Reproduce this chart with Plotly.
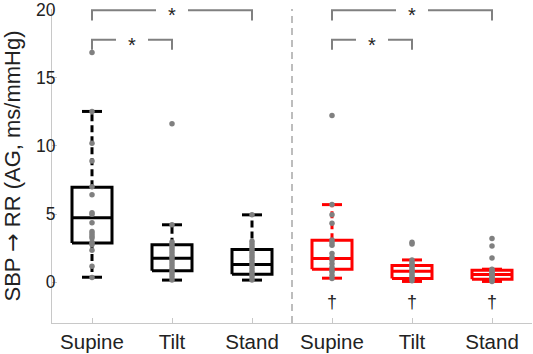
import plotly.graph_objects as go

# ---- data ----
tick_labels = ["Supine", "Tilt", "Stand", "Supine", "Tilt", "Stand"]
group_colors = ["black", "black", "black", "red", "red", "red"]

q1 = [2.87, 0.83, 0.58, 0.95, 0.27, 0.22]
median = [4.72, 1.75, 1.29, 1.73, 0.80, 0.56]
q3 = [6.96, 2.75, 2.39, 3.07, 1.22, 0.88]
whisk_lo = [0.36, 0.15, 0.15, 0.29, 0.05, 0.05]
whisk_hi = [12.53, 4.21, 4.94, 5.69, 1.63, 0.95]

points = [
    [16.86, 12.53, 10.2, 8.9, 7.0, 6.42, 5.09, 4.99, 4.36, 3.72, 3.55, 3.38, 3.24,
     2.92, 2.77, 2.34, 1.17, 0.34],
    [11.63, 4.21, 2.95, 2.75, 2.55, 2.35, 2.15, 1.95, 1.8, 1.6, 1.4, 1.2, 1.0, 0.8,
     0.6, 0.4, 0.15],
    [4.94, 3.0, 2.8, 2.6, 2.4, 2.2, 2.0, 1.8, 1.6, 1.4, 1.2, 1.0, 0.8, 0.6, 0.4, 0.15],
    [12.24, 5.69, 4.94, 4.33, 3.1, 2.9, 2.7, 2.1, 1.85, 1.6, 1.35, 1.1, 0.88, 0.75,
     0.5, 0.27],
    [2.92, 2.8, 1.63, 1.45, 1.3, 1.15, 1.0, 0.85, 0.7, 0.55, 0.4, 0.25, 0.1],
    [3.21, 2.65, 1.77, 0.95, 0.85, 0.75, 0.65, 0.55, 0.45, 0.35, 0.25, 0.15, 0.05],
]

# significance brackets: (from group, to group, level)
brackets = [(1, 3, 19.95), (1, 2, 17.8), (4, 6, 19.95), (4, 5, 17.8)]
dagger_groups = [4, 5, 6]
dagger_y = -1.45

FONT = "Liberation Sans"
positions = list(range(1, len(tick_labels) + 1))
BW = 0.25   # half box width
CW = 0.125  # half cap width

fig = go.Figure()

for i, c in enumerate(positions):
    col = group_colors[i]
    fig.add_trace(go.Scatter(
        x=[c, c, None, c, c], y=[q3[i], whisk_hi[i], None, q1[i], whisk_lo[i]],
        mode="lines", line=dict(color=col, width=3, dash="7px,4px"),
        hoverinfo="skip", showlegend=False))
    fig.add_trace(go.Scatter(
        x=[c - CW, c + CW, None, c - CW, c + CW],
        y=[whisk_hi[i], whisk_hi[i], None, whisk_lo[i], whisk_lo[i]],
        mode="lines", line=dict(color=col, width=3),
        hoverinfo="skip", showlegend=False))
    fig.add_trace(go.Scatter(
        x=[c - BW, c + BW, c + BW, c - BW, c - BW, None, c - BW, c + BW],
        y=[q1[i], q1[i], q3[i], q3[i], q1[i], None, median[i], median[i]],
        mode="lines", line=dict(color=col, width=3),
        hoverinfo="skip", showlegend=False))

for i, c in enumerate(positions):
    fig.add_trace(go.Scatter(
        x=[c] * len(points[i]), y=points[i], mode="markers",
        marker=dict(color="#808080", size=5.5),
        hoverinfo="skip", showlegend=False))

GAP = 0.2
DROP = 0.75
for (a, b, lvl) in brackets:
    mid = (a + b) / 2
    fig.add_trace(go.Scatter(
        x=[a, a, mid - GAP, None, mid + GAP, b, b],
        y=[lvl - DROP, lvl, lvl, None, lvl, lvl, lvl - DROP],
        mode="lines", line=dict(color="#808080", width=2),
        cliponaxis=False, hoverinfo="skip", showlegend=False))
    fig.add_annotation(x=mid, y=lvl, text="*", showarrow=False,
                       font=dict(family=FONT, size=20, color="#222"),
                       yanchor="middle", yshift=-5)

for g in dagger_groups:
    fig.add_annotation(x=g, y=dagger_y, text="†", showarrow=False,
                       font=dict(family=FONT, size=18, color="#222"))

fig.add_shape(type="line", xref="x", yref="paper", x0=3.5, x1=3.5, y0=0, y1=1,
              line=dict(color="#bdbdbd", width=2, dash="7px,5px"))

fig.update_layout(
    width=533, height=354,
    margin=dict(l=52, r=1, t=9, b=31),
    plot_bgcolor="white", paper_bgcolor="white",
    font=dict(family=FONT, color="#222"),
)
fig.update_xaxes(
    range=[0.5, 6.5], tickvals=positions, ticktext=tick_labels,
    showgrid=False, zeroline=False, showline=True, linecolor="#c8c8c8", linewidth=1,
    ticks="inside", ticklen=5, tickcolor="#c8c8c8",
    tickfont=dict(family=FONT, size=20.5, color="#222"), automargin=False)
fig.update_yaxes(
    range=[-3, 20.05], tickvals=[0, 5, 10, 15, 20],
    showgrid=False, zeroline=False, showline=True, linecolor="#c8c8c8", linewidth=1,
    ticks="inside", ticklen=5, tickcolor="#c8c8c8", ticklabeloverflow="allow",
    ticklabelstandoff=-8,
    tickfont=dict(family=FONT, size=17.5, color="#222"), automargin=False,
    title=dict(text="SBP <span style='font-family:DejaVu Sans'>→</span> RR (AG, ms/mmHg)",
               font=dict(family=FONT, size=22, color="#222"),
               standoff=20))

fig.write_html("out.html", config={"displayModeBar": False},
               post_script="document.body.style.margin='0';document.body.style.overflow='hidden';")
